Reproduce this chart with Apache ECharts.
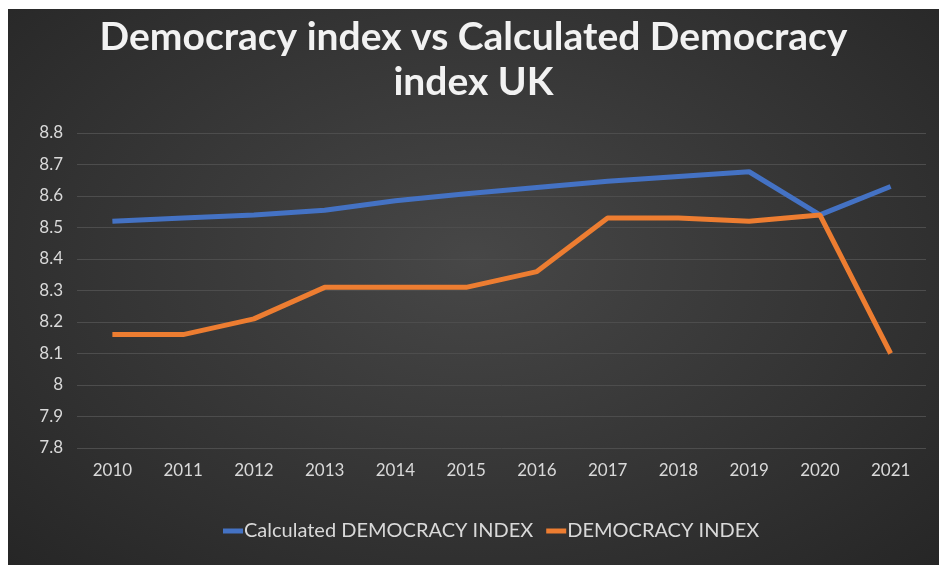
<!DOCTYPE html>
<html>
<head>
<meta charset="utf-8">
<script src="https://cdn.jsdelivr.net/npm/echarts@6/dist/echarts.min.js"></script>
<style>
    body {
        margin: 0;
        background: #ffffff;
    }

    #chart {
        position: absolute;
        left: 8px;
        top: 9px;
        width: 931px;
        height: 556px;
        background: radial-gradient(ellipse at 50% 45%, #474747 0%, #383838 45%, #262626 100%);
    }
</style>
</head>
<body>
<div id="chart"></div>
<script>
// years on the x axis
var years = ['2010', '2011', '2012', '2013', '2014', '2015', '2016', '2017', '2018', '2019', '2020', '2021']
// calculated index (blue)
var calculated = [8.52, 8.53, 8.54, 8.555, 8.585, 8.607, 8.627, 8.647, 8.662, 8.677, 8.54, 8.63]
// EIU democracy index (orange)
var democracy = [8.16, 8.16, 8.21, 8.31, 8.31, 8.31, 8.36, 8.53, 8.53, 8.52, 8.54, 8.10]

var chart = echarts.init(document.getElementById('chart'))
var labelColor = '#d9d9d9'
var font = 'Lato, "Open Sans", sans-serif'

chart.setOption({
    backgroundColor: 'transparent',
    title: {
        text: 'Democracy index vs Calculated Democracy\nindex UK',
        left: 'center',
        top: 1,
        textStyle: {
            color: '#f2f2f2',
            fontFamily: font,
            fontWeight: 'bold',
            fontSize: 39,
            lineHeight: 45
        }
    },
    legend: {
        bottom: 19,
        left: 210,
        itemWidth: 20,
        itemHeight: 5,
        itemGap: 13,
        icon: 'rect',
        textStyle: {
            color: labelColor,
            fontFamily: font,
            fontSize: 20,
            padding: [0, 0, 0, -4]
        },
        data: ['Calculated DEMOCRACY INDEX', 'DEMOCRACY INDEX']
    },
    grid: {
        left: 69,
        right: 13,
        top: 124,
        bottom: 117
    },
    xAxis: {
        type: 'category',
        data: years,
        axisLine: { show: false },
        axisTick: { show: false },
        axisLabel: {
            color: labelColor,
            fontFamily: font,
            fontSize: 17,
            margin: 14
        }
    },
    yAxis: {
        type: 'value',
        min: 7.8,
        max: 8.8,
        interval: 0.1,
        axisLabel: {
            color: labelColor,
            fontFamily: font,
            fontSize: 17,
            margin: 14,
            formatter: function (v) {
                return String(Math.round(v * 10) / 10)
            }
        },
        splitLine: {
            lineStyle: { color: '#4d4d4d', width: 1 }
        }
    },
    series: [
        {
            name: 'Calculated DEMOCRACY INDEX',
            type: 'line',
            data: calculated,
            symbol: 'none',
            color: '#4472c4',
            lineStyle: { width: 5 }
        },
        {
            name: 'DEMOCRACY INDEX',
            type: 'line',
            data: democracy,
            symbol: 'none',
            color: '#ed7d31',
            lineStyle: { width: 5 }
        }
    ]
})
</script>
</body>
</html>
